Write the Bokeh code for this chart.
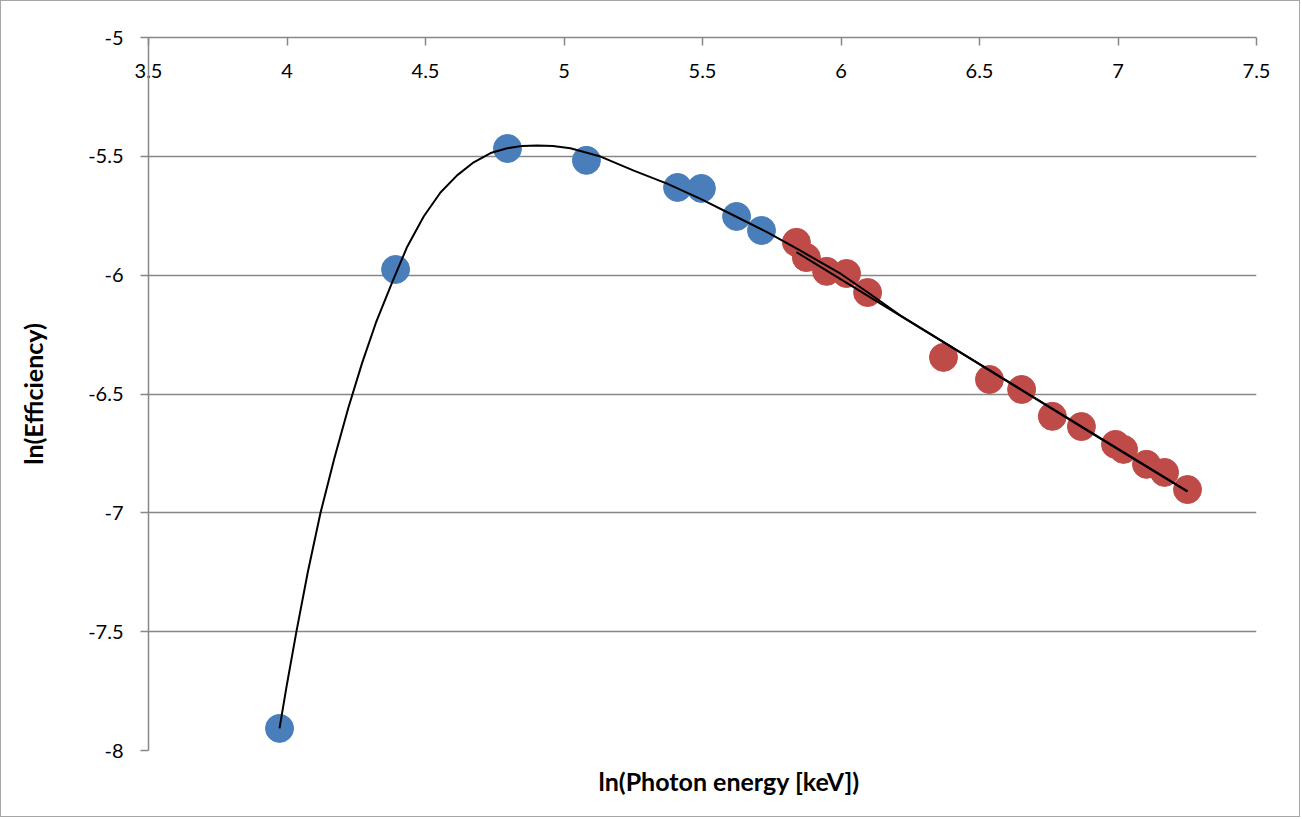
from bokeh.plotting import figure
from bokeh.models import Range1d, FixedTicker, Title
from bokeh.embed import file_html
from bokeh.resources import INLINE

# ---- data ----
blue_x = [3.973, 4.392, 4.796, 5.081, 5.410, 5.496, 5.623, 5.713]
blue_y = [-7.907, -5.976, -5.467, -5.517, -5.631, -5.635, -5.753, -5.812]

red_x = [5.839, 5.875, 5.948, 6.020, 6.096, 6.370, 6.536, 6.652, 6.763, 6.868,
         6.991, 7.020, 7.103, 7.168, 7.251]
red_y = [-5.862, -5.926, -5.984, -5.993, -6.073, -6.346, -6.439, -6.481, -6.594, -6.637,
         -6.712, -6.733, -6.796, -6.830, -6.902]

# polynomial trendline (whole range)
curve_x = [3.973, 4.000, 4.034, 4.075, 4.121, 4.171, 4.221, 4.271, 4.321, 4.380,
           4.434, 4.494, 4.554, 4.614, 4.674, 4.735, 4.795, 4.850, 4.903, 4.960,
           5.023, 5.132, 5.252, 5.372, 5.493, 5.613, 5.733, 5.852, 6.000, 6.100,
           6.215, 6.500, 6.937, 7.250]
curve_y = [-7.907, -7.720, -7.500, -7.250, -7.000, -6.770, -6.560, -6.370, -6.200, -6.029,
           -5.880, -5.752, -5.652, -5.580, -5.525, -5.486, -5.466, -5.456, -5.454, -5.457,
           -5.466, -5.501, -5.560, -5.615, -5.679, -5.749, -5.819, -5.896, -5.995, -6.075,
           -6.170, -6.374, -6.688, -6.910]

# linear trendline over the red series
trend_x = [5.839, 7.251]
trend_y = [-5.903, -6.910]

x_ticks = [3.5, 4, 4.5, 5, 5.5, 6, 6.5, 7, 7.5]
x_labels = ["3.5", "4", "4.5", "5", "5.5", "6", "6.5", "7", "7.5"]
y_ticks = [-8, -7.5, -7, -6.5, -6, -5.5, -5]
y_labels = ["-8", "-7.5", "-7", "-6.5", "-6", "-5.5", "-5"]

x_title = "ln(Photon energy [keV])"
y_title = "ln(Efficiency)"

FONT = "Lato"
GREY = "#878787"

p = figure(width=1300, height=817,
           x_range=Range1d(3.5, 7.5), y_range=Range1d(-8, -5),
           x_axis_location="above",
           output_backend="svg", toolbar_location=None,
           min_border_left=147, min_border_right=45,
           min_border_top=36, min_border_bottom=68)
p.styles = {"border": "1px solid #a6a6a6"}
p.background_fill_color = "white"
p.border_fill_color = "white"
p.outline_line_color = None

# x axis at top: ticks pointing down, labels placed under the axis line
xa = p.xaxis[0]
xa.ticker = FixedTicker(ticks=x_ticks)
xa.major_label_overrides = {t: l for t, l in zip(x_ticks, x_labels)}
xa.major_tick_in = 8
xa.major_tick_out = 0
xa.minor_tick_line_color = None
xa.axis_line_color = GREY
xa.axis_line_width = 1.5
xa.major_tick_line_color = GREY
xa.major_tick_line_width = 1.5
xa.major_label_text_font = FONT
xa.major_label_text_font_size = "20px"
xa.major_label_text_color = "black"
xa.major_label_text_baseline = "middle"
xa.major_label_standoff = -40

ya = p.yaxis[0]
ya.ticker = FixedTicker(ticks=y_ticks)
ya.major_label_overrides = {t: l for t, l in zip(y_ticks, y_labels)}
ya.major_tick_in = 0
ya.major_tick_out = 8
ya.minor_tick_line_color = None
ya.axis_line_color = GREY
ya.axis_line_width = 1.5
ya.major_tick_line_color = GREY
ya.major_tick_line_width = 1.5
ya.major_label_text_font = FONT
ya.major_label_text_font_size = "20px"
ya.major_label_text_color = "black"
ya.major_label_standoff = 17
ya.axis_label = y_title
ya.axis_label_text_font = FONT
ya.axis_label_text_font_style = "bold"
ya.axis_label_text_font_size = "25px"
ya.axis_label_text_color = "black"
ya.axis_label_standoff = 37

p.xgrid.grid_line_color = None
p.ygrid.ticker = FixedTicker(ticks=y_ticks)
p.ygrid.grid_line_color = GREY
p.ygrid.grid_line_width = 1.5

# markers
p.scatter(blue_x, blue_y, size=28, fill_color="#4A7EBB", line_color="#4A7EBB")
p.scatter(red_x, red_y, size=28, fill_color="#BE4B48", line_color="#BE4B48")

# trendlines
p.line(curve_x, curve_y, line_color="black", line_width=2)
p.line(trend_x, trend_y, line_color="black", line_width=2)

# x axis title (below the plot, slightly right of centre as in the reference)
p.add_layout(Title(text=x_title, align="left", offset=450, standoff=26,
                   text_font=FONT, text_font_style="bold",
                   text_font_size="25px", text_color="black"), "below")

open("out.html", "w").write(file_html(p, INLINE))
